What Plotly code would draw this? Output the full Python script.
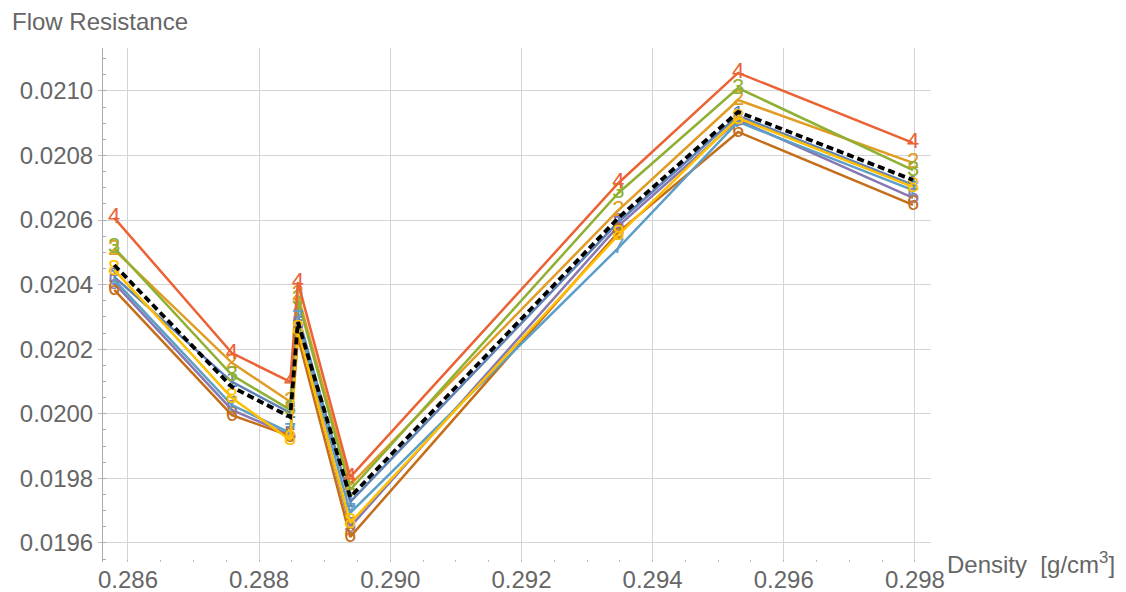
import plotly.graph_objects as go

density = [0.28579, 0.287585, 0.288474, 0.288591, 0.289389, 0.293479, 0.295303, 0.297971]

s1 = [0.020424, 0.020099, 0.020003, 0.020306, 0.019727, 0.020594, 0.020923, 0.020709]
s2 = [0.020508, 0.020158, 0.020037, 0.020368, 0.019780, 0.020631, 0.020972, 0.020777]
s3 = [0.020514, 0.020120, 0.020012, 0.020353, 0.019764, 0.020684, 0.021009, 0.020755]
s4 = [0.020607, 0.020188, 0.020099, 0.020408, 0.019804, 0.020715, 0.021056, 0.020839]
s5 = [0.020405, 0.020012, 0.019934, 0.020275, 0.019650, 0.020582, 0.020910, 0.020669]
s6 = [0.020384, 0.019996, 0.019931, 0.020238, 0.019619, 0.020563, 0.020873, 0.020647]
s7 = [0.020415, 0.020027, 0.019941, 0.020291, 0.019693, 0.020514, 0.020904, 0.020693]
s8 = [0.020446, 0.020049, 0.019919, 0.020260, 0.019662, 0.020554, 0.020916, 0.020703]
mean_line = [0.020461, 0.020083, 0.019990, 0.020284, 0.019742, 0.020607, 0.020935, 0.020724]

series = [s1, s2, s3, s4, s5, s6, s7, s8]
labels = ["1", "2", "3", "4", "5", "6", "7", "8"]
colors = ["#5E81B5", "#E19C24", "#8FB032", "#EB6235", "#8778B3", "#C56E1A", "#5D9EC7", "#FFBF00"]

y_ticks = [0.0196, 0.0198, 0.0200, 0.0202, 0.0204, 0.0206, 0.0208, 0.0210]
x_ticks = [0.286, 0.288, 0.290, 0.292, 0.294, 0.296, 0.298]

W, H = 1126, 592
L, R, T, B = 103, 195, 48, 30
pw, ph = W - L - R, H - T - B

fig = go.Figure()
for vals, lab, col in zip(series, labels, colors):
    fig.add_trace(go.Scatter(
        x=density, y=vals, mode="lines+text",
        text=[lab] * len(vals), textposition="middle center",
        textfont=dict(family="Liberation Sans", size=22, color=col),
        line=dict(color=col, width=2.5),
        showlegend=False, cliponaxis=False,
    ))
fig.add_trace(go.Scatter(
    x=density, y=mean_line, mode="lines",
    line=dict(color="black", width=3.8, dash="7px,4px"),
    showlegend=False,
))

tick_font = dict(family="Liberation Sans", size=24, color="#666666")
fig.update_layout(
    width=W, height=H,
    margin=dict(l=L, r=R, t=T, b=B),
    plot_bgcolor="white", paper_bgcolor="white",
    xaxis=dict(
        range=[0.285619, 0.298245], tickvals=x_ticks, tickformat=".3f",
        showgrid=True, gridcolor="#d4d4d4", gridwidth=1.3,
        showline=False, zeroline=False, ticks="", tickfont=tick_font,
        ticklabelstandoff=1, automargin=False,
        minor=dict(dtick=0.0005, ticks="inside", ticklen=2, tickcolor="#bbbbbb", showgrid=False),
    ),
    yaxis=dict(
        range=[0.019541, 0.021133], tickvals=y_ticks, tickformat=".4f",
        showgrid=True, gridcolor="#d4d4d4", gridwidth=1.3,
        showline=True, linecolor="#aaaaaa", linewidth=1,
        zeroline=False, ticks="outside", ticklen=4, tickcolor="#bbbbbb",
        tickfont=tick_font, automargin=False,
        minor=dict(dtick=0.00005, ticks="inside", ticklen=3, tickcolor="#aaaaaa", showgrid=False),
    ),
    annotations=[
        dict(text="Flow Resistance", xref="paper", yref="paper",
             x=(10 - L) / pw, y=1 - (22 - T) / ph, xanchor="left", yanchor="middle",
             showarrow=False, font=dict(family="Liberation Sans", size=24, color="#666666")),
        dict(text="Density  [g/cm<sup>3</sup>]", xref="paper", yref="paper",
             x=(945 - L) / pw, y=1 - (563 - T) / ph, xanchor="left", yanchor="middle",
             showarrow=False, font=dict(family="Liberation Sans", size=24, color="#666666")),
    ],
)

fig.write_html("out.html", config={"displayModeBar": False},
               post_script="document.body.style.margin='0px';")
